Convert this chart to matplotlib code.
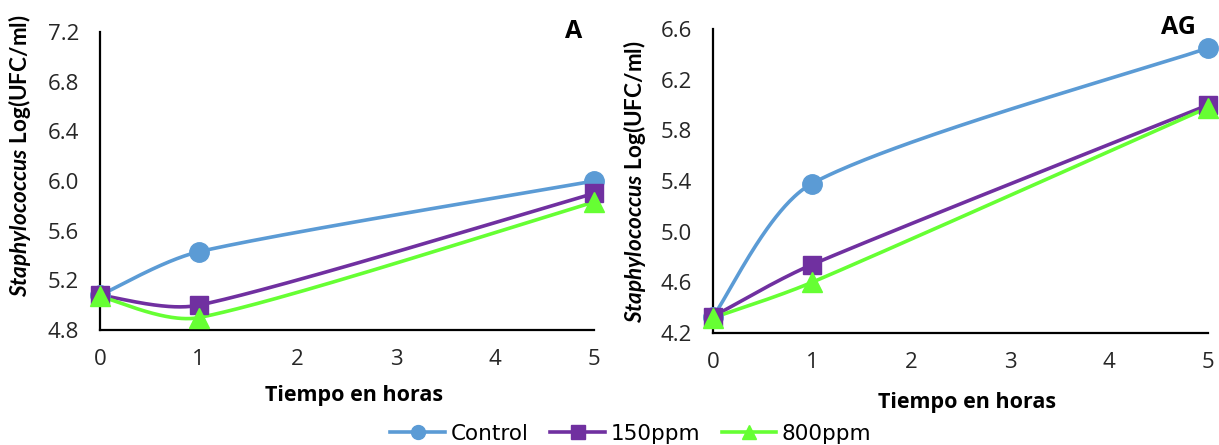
import numpy as np
import matplotlib
matplotlib.use("Agg")
import matplotlib.pyplot as plt
from matplotlib.lines import Line2D

plt.rcParams['font.family'] = ['Open Sans', 'DejaVu Sans']
plt.rcParams['mathtext.fontset'] = 'custom'
plt.rcParams['mathtext.bfit'] = 'Lato:italic:bold'
plt.rcParams['mathtext.bf'] = 'Lato:bold'
plt.rcParams['mathtext.rm'] = 'Lato'

hours = [0, 1, 5]
series_names = ["Control", "150ppm", "800ppm"]
colors = ["#5B9BD5", "#7030A0", "#66FF33"]
markers = ["o", "s", "^"]

A_control = [5.08, 5.43, 6.00]
A_150 = [5.08, 5.00, 5.90]
A_800 = [5.07, 4.90, 5.83]

AG_control = [4.33, 5.38, 6.45]
AG_150 = [4.33, 4.74, 6.00]
AG_800 = [4.32, 4.60, 5.98]

A_yticks = [4.8, 5.2, 5.6, 6.0, 6.4, 6.8, 7.2]
AG_yticks = [4.2, 4.6, 5.0, 5.4, 5.8, 6.2, 6.6]
xticks = [0, 1, 2, 3, 4, 5]


def smooth(xs, ys, n=80):
    P = np.column_stack([xs, ys]).astype(float)
    m = len(P)
    L = [np.hypot(*(P[i + 1] - P[i])) for i in range(m - 1)]
    left_h, right_h = {}, {}
    for i in range(1, m - 1):
        d = P[i + 1] - P[i - 1]
        tot = L[i - 1] + L[i]
        left_h[i] = P[i] - d * min(1 / 6, L[i - 1] / tot / 3)
        right_h[i] = P[i] + d * min(1 / 6, L[i] / tot / 3)
    right_h[0] = P[0] + (P[1] - P[0]) / 6
    left_h[m - 1] = P[m - 1] - (P[m - 1] - P[m - 2]) / 6
    out = [P[0]]
    for i in range(m - 1):
        p1, p2 = P[i], P[i + 1]
        c1, c2 = right_h[i], left_h[i + 1]
        s = np.linspace(0, 1, n)[1:, None]
        seg = ((1 - s) ** 3) * p1 + 3 * ((1 - s) ** 2) * s * c1 + 3 * (1 - s) * s ** 2 * c2 + s ** 3 * p2
        out.extend(seg)
    out = np.array(out)
    return out[:, 0], out[:, 1]


fig = plt.figure(figsize=(12.19, 4.45), dpi=100)
ax1 = fig.add_axes([100 / 1219, 1 - 330 / 445, 494 / 1219, 298 / 445])
ax2 = fig.add_axes([713 / 1219, 1 - 333 / 445, 495 / 1219, 304 / 445])

ylabel = r"$\bfit{Staphylococcus}$ $\mathbf{Log(UFC/ml)}$"


def draw(ax, data, yticks, tag, tagx, tagy, ylab_xy, xlab_xy):
    for vals, c, mk in zip(data, colors, markers):
        sx, sy = smooth(hours, vals)
        ax.plot(sx, sy, color=c, lw=2.6, zorder=2, clip_on=False)
        ax.plot(hours, vals, ls='none', marker=mk, color=c,
                ms={'o': 14, 's': 13, '^': 15}[mk], zorder=3, clip_on=False)
    ax.set_xlim(0, 5)
    ax.set_ylim(yticks[0], yticks[-1])
    ax.set_yticks(yticks)
    ax.set_yticklabels([f"{v:.1f}" for v in yticks])
    ax.set_xticks(xticks)
    ax.tick_params(length=0, labelsize=16, colors='#262626')
    ax.tick_params(axis='x', pad=14)
    ax.tick_params(axis='y', pad=15)
    for s in ['top', 'right']:
        ax.spines[s].set_visible(False)
    for s in ['left', 'bottom']:
        ax.spines[s].set_linewidth(1.6)
    ax.set_xlabel("Tiempo en horas", fontsize=15.5, fontweight='bold')
    ax.set_ylabel(ylabel, fontsize=16.2)
    ax.yaxis.set_label_coords(*ylab_xy)
    ax.xaxis.set_label_coords(*xlab_xy)
    fig.text(tagx / 1219, 1 - tagy / 445, tag, fontsize=18, fontweight='bold',
             ha='center', va='center')


draw(ax1, [A_control, A_150, A_800], A_yticks, "A", 574, 32,
     (-0.1356, 0.584), (0.514, -0.184))
draw(ax2, [AG_control, AG_150, AG_800], AG_yticks, "AG", 1178, 28,
     (-0.1313, 0.497), (0.513, -0.194))

handles = [Line2D([], [], color=c, marker=m, lw=2.6, ms=10) for c, m in zip(colors, markers)]
fig.legend(handles, series_names, loc='center', bbox_to_anchor=(631 / 1219, 1 - 434 / 445), ncol=3,
           frameon=False, prop={'family': 'DejaVu Sans', 'size': 15.5}, handlelength=2.55,
           columnspacing=1.0, handletextpad=0.25, borderpad=0)

fig.savefig("out.png", dpi=100)
